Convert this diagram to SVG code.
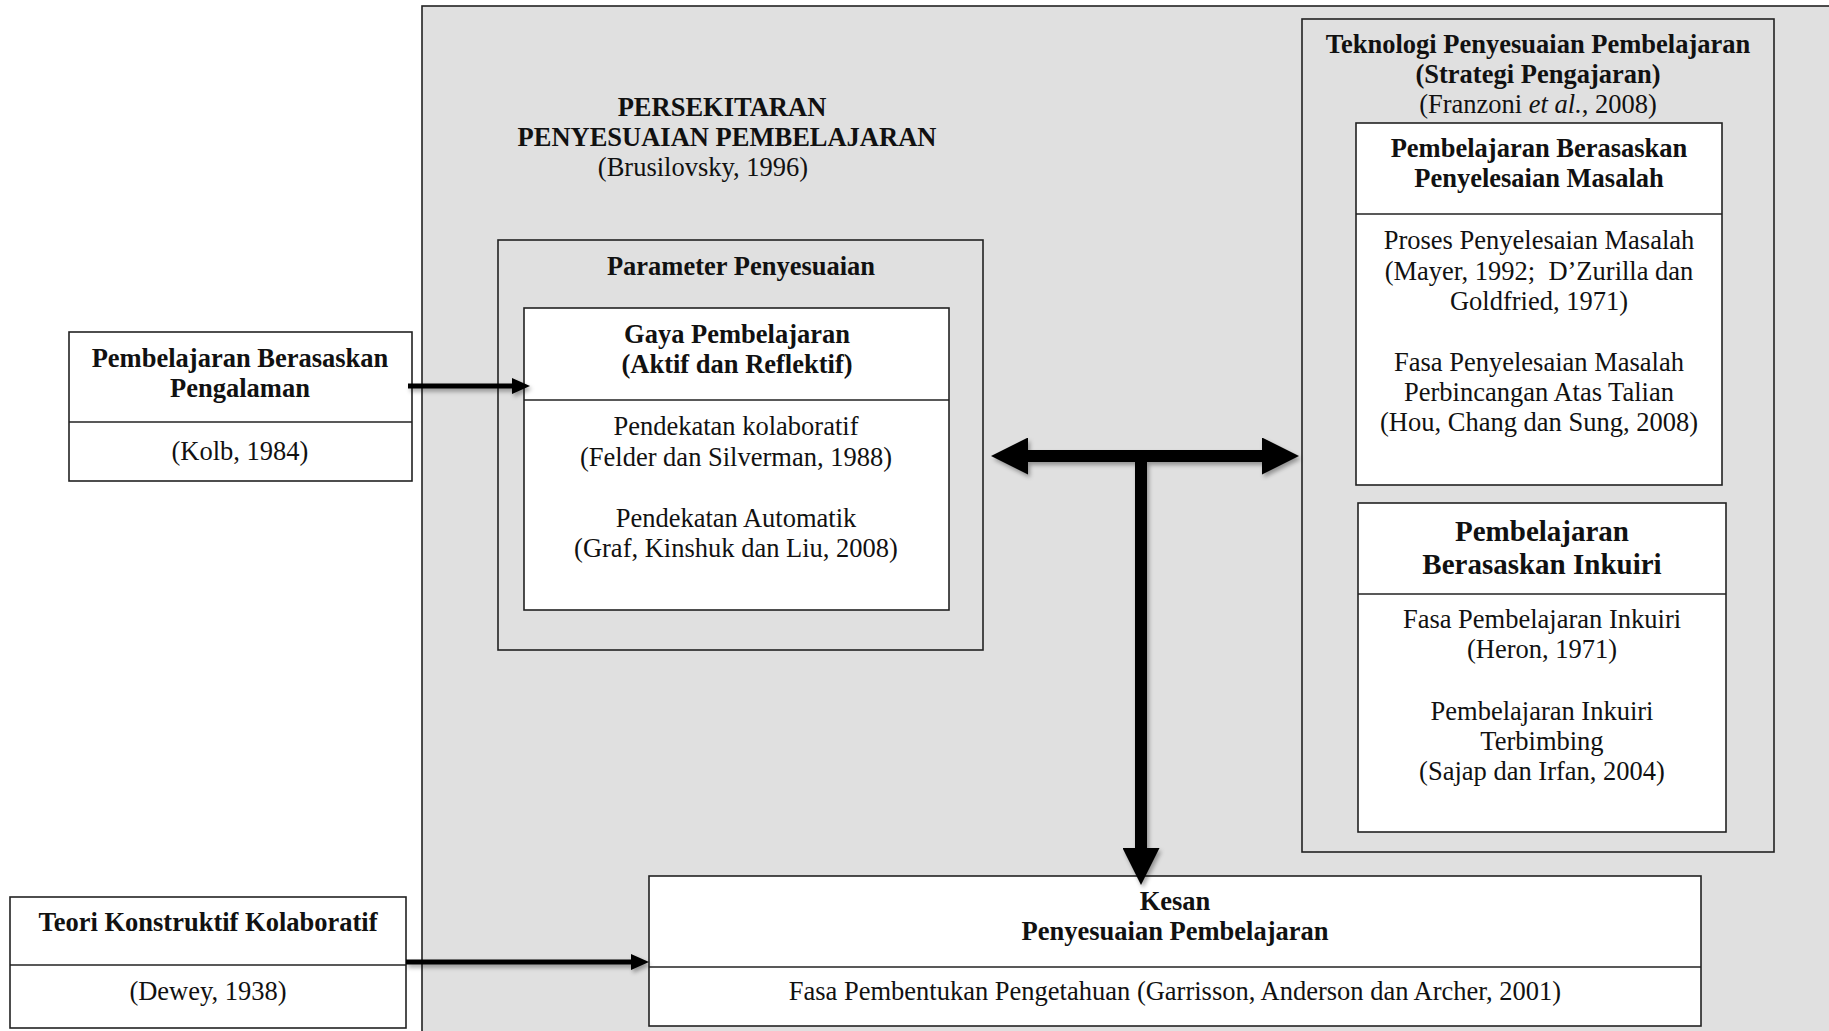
<svg xmlns="http://www.w3.org/2000/svg" width="1829" height="1031" viewBox="0 0 1829 1031">
<defs>
<style>
text{font-family:"Liberation Serif","Times New Roman",serif;font-size:26.5px;fill:#111;text-anchor:middle}
.b{font-weight:bold}
.big{font-size:29px}
.box{fill:#fff;stroke:#222;stroke-width:1.6}
.gbox{fill:#e0e0e0;stroke:#222;stroke-width:1.6}
.div{stroke:#222;stroke-width:1.6}
.thin{stroke:#000;stroke-width:5;fill:none}
.thick{stroke:#000;stroke-width:12;fill:none}
</style>
<marker id="ah" viewBox="0 0 18 16" refX="1" refY="8" markerWidth="18" markerHeight="16" markerUnits="userSpaceOnUse" orient="auto-start-reverse">
<path d="M0 0 L18 8 L0 16 Z" fill="#000"/>
</marker>
<marker id="bh" viewBox="0 0 37 37" refX="1" refY="18.5" markerWidth="37" markerHeight="37" markerUnits="userSpaceOnUse" orient="auto-start-reverse">
<path d="M0 0 L37 18.5 L0 37 Z" fill="#000"/>
</marker>
<filter id="sh" x="-10%" y="-10%" width="120%" height="120%">
<feDropShadow dx="2" dy="3" stdDeviation="2" flood-color="#000" flood-opacity="0.35"/>
</filter>
</defs>
<rect width="1829" height="1031" fill="#fff"/>

<g id="persekitaran">
<rect x="422" y="6" width="1420" height="1040" class="gbox"/>
<text class="b" x="722" y="116">PERSEKITARAN</text>
<text class="b" x="727" y="146">PENYESUAIAN PEMBELAJARAN</text>
<text x="703" y="176">(Brusilovsky, 1996)</text>
</g>

<g id="pengalaman">
<rect x="69" y="332" width="343" height="149" class="box"/>
<line x1="69" y1="422" x2="412" y2="422" class="div"/>
<text class="b" x="240" y="367">Pembelajaran Berasaskan</text>
<text class="b" x="240" y="397">Pengalaman</text>
<text x="240" y="460">(Kolb, 1984)</text>
</g>

<g id="konstruktif">
<rect x="10" y="897" width="396" height="131" class="box"/>
<line x1="10" y1="965" x2="406" y2="965" class="div"/>
<text class="b" x="208" y="931">Teori Konstruktif Kolaboratif</text>
<text x="208" y="1000">(Dewey, 1938)</text>
</g>

<g id="parameter">
<rect x="498" y="240" width="485" height="410" class="gbox"/>
<text class="b" x="741" y="275">Parameter Penyesuaian</text>
</g>

<g id="gaya">
<rect x="524" y="308" width="425" height="302" class="box"/>
<line x1="524" y1="400" x2="949" y2="400" class="div"/>
<text class="b" x="737" y="343">Gaya Pembelajaran</text>
<text class="b" x="737" y="373">(Aktif dan Reflektif)</text>
<text x="736" y="435">Pendekatan kolaboratif</text>
<text x="736" y="466">(Felder dan Silverman, 1988)</text>
<text x="736" y="527">Pendekatan Automatik</text>
<text x="736" y="557">(Graf, Kinshuk dan Liu, 2008)</text>
</g>

<g id="teknologi">
<rect x="1302" y="19" width="472" height="833" class="gbox"/>
<text class="b" x="1538" y="53">Teknologi Penyesuaian Pembelajaran</text>
<text class="b" x="1538" y="83">(Strategi Pengajaran)</text>
<text x="1538" y="113">(Franzoni <tspan font-style="italic">et al.</tspan>, 2008)</text>
</g>

<g id="masalah">
<rect x="1356" y="123" width="366" height="362" class="box"/>
<line x1="1356" y1="214" x2="1722" y2="214" class="div"/>
<text class="b" x="1539" y="157">Pembelajaran Berasaskan</text>
<text class="b" x="1539" y="187">Penyelesaian Masalah</text>
<text x="1539" y="249">Proses Penyelesaian Masalah</text>
<text x="1539" y="280">(Mayer, 1992;&#160; D’Zurilla dan</text>
<text x="1539" y="310">Goldfried, 1971)</text>
<text x="1539" y="371">Fasa Penyelesaian Masalah</text>
<text x="1539" y="401">Perbincangan Atas Talian</text>
<text x="1539" y="431">(Hou, Chang dan Sung, 2008)</text>
</g>

<g id="inkuiri">
<rect x="1358" y="503" width="368" height="329" class="box"/>
<line x1="1358" y1="594" x2="1726" y2="594" class="div"/>
<text class="b big" x="1542" y="541">Pembelajaran</text>
<text class="b big" x="1542" y="574">Berasaskan Inkuiri</text>
<text x="1542" y="628">Fasa Pembelajaran Inkuiri</text>
<text x="1542" y="658">(Heron, 1971)</text>
<text x="1542" y="720">Pembelajaran Inkuiri</text>
<text x="1542" y="750">Terbimbing</text>
<text x="1542" y="780">(Sajap dan Irfan, 2004)</text>
</g>

<g id="kesan">
<rect x="649" y="876" width="1052" height="150" class="box"/>
<line x1="649" y1="967" x2="1701" y2="967" class="div"/>
<text class="b" x="1175" y="910">Kesan</text>
<text class="b" x="1175" y="940">Penyesuaian Pembelajaran</text>
<text x="1175" y="1000">Fasa Pembentukan Pengetahuan (Garrisson, Anderson dan Archer, 2001)</text>
</g>

<g id="connectors" filter="url(#sh)">
<line x1="408" y1="386" x2="513" y2="386" class="thin" marker-end="url(#ah)"/>
<line x1="406" y1="962" x2="632" y2="962" class="thin" marker-end="url(#ah)"/>
<line x1="1027" y1="456" x2="1263" y2="456" class="thick" marker-start="url(#bh)" marker-end="url(#bh)"/>
<line x1="1141" y1="450" x2="1141" y2="849" class="thick" marker-end="url(#bh)"/>
</g>
</svg>
